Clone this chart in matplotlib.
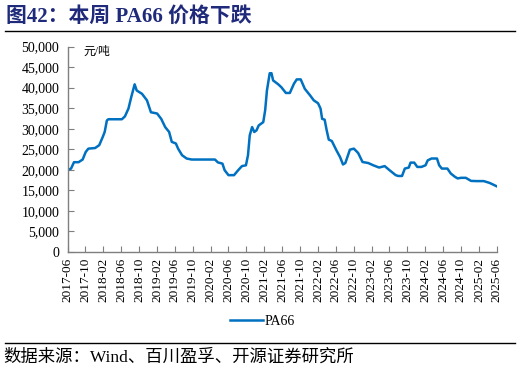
import matplotlib
matplotlib.use('Agg')
import matplotlib.pyplot as plt
import matplotlib.dates as mdates
import pandas as pd
from matplotlib.lines import Line2D

plt.rcParams['font.family'] = ['Liberation Serif', 'Noto Sans CJK SC']
plt.rcParams['axes.unicode_minus'] = False

# PA66 价格（元/吨）
dates = ['2017-06-01', '2017-06-25', '2017-07-15', '2017-08-15', '2017-09-12', '2017-10-03',
         '2017-10-21', '2017-12-06', '2018-01-03', '2018-01-27', '2018-02-09', '2018-02-24',
         '2018-03-06', '2018-06-06', '2018-06-27', '2018-07-21', '2018-08-09', '2018-08-18',
         '2018-09-01', '2018-09-15', '2018-10-21', '2018-11-24', '2018-12-21', '2019-02-01',
         '2019-03-01', '2019-03-28', '2019-04-24', '2019-05-12', '2019-06-09', '2019-06-24',
         '2019-07-21', '2019-08-21', '2019-09-24', '2020-03-01', '2020-03-21', '2020-04-21',
         '2020-05-06', '2020-06-01', '2020-07-09', '2020-08-06', '2020-09-01', '2020-09-28',
         '2020-10-12', '2020-10-24', '2020-11-09', '2020-11-24', '2020-12-09', '2020-12-24',
         '2021-01-24', '2021-02-06', '2021-02-18', '2021-03-09', '2021-03-21', '2021-04-01',
         '2021-05-06', '2021-05-27', '2021-06-27', '2021-07-24', '2021-08-21', '2021-09-09',
         '2021-10-06', '2021-11-03', '2021-12-09', '2022-01-03', '2022-02-01', '2022-02-18',
         '2022-03-01', '2022-03-18', '2022-04-01', '2022-04-15', '2022-05-06', '2022-06-06',
         '2022-07-01', '2022-07-21', '2022-08-06', '2022-09-06', '2022-10-03', '2022-11-01',
         '2022-12-01', '2023-01-09', '2023-02-12', '2023-03-24', '2023-05-01', '2023-06-03',
         '2023-07-15', '2023-08-01', '2023-08-27', '2023-09-15', '2023-10-12', '2023-10-24',
         '2023-11-18', '2023-12-09', '2024-01-06', '2024-02-03', '2024-02-18', '2024-03-15',
         '2024-04-21', '2024-05-06', '2024-05-24', '2024-07-01', '2024-07-24', '2024-08-21',
         '2024-09-09', '2024-10-01', '2024-11-03', '2024-12-09', '2025-01-15', '2025-03-06',
         '2025-04-15', '2025-06-01']
pa66 = [19900, 20300, 21850, 21850, 22500, 24350,
        25150, 25300, 26000, 28000, 29200, 32000,
        32300, 32300, 33000, 34900, 37700, 38900,
        40800, 39300, 38500, 36900, 34000, 33700,
        32400, 30400, 29200, 26800, 26400, 25150,
        23550, 22750, 22500, 22500, 21800, 21500,
        19900, 18700, 18700, 19900, 20900, 21100,
        23550, 28400, 30400, 29200, 29600, 30800,
        31600, 34500, 39300, 43500, 43500, 41750,
        40800, 40100, 38700, 38700, 40950, 42000,
        42000, 39700, 38100, 36900, 36200, 34900,
        32400, 32200, 29600, 27350, 27000, 24750,
        23100, 21300, 21650, 24900, 25150, 24100,
        21900, 21650, 21100, 20550, 20900, 19900,
        18700, 18500, 18500, 20300, 20550, 21750,
        21750, 20700, 20700, 21100, 22300, 22750,
        22750, 21100, 20300, 20300, 19100, 18300,
        17900, 18050, 18050, 17300, 17250, 17250,
        16800, 16000]

x = pd.to_datetime(dates)
ticks = pd.date_range('2017-06-01', '2025-06-01', freq='4MS')

fig = plt.figure(figsize=(5.21, 3.73), dpi=100)
ax = fig.add_axes([0.1296, 0.3244, 0.8244, 0.5509])

ax.plot(x, pa66, color='#0070C0', lw=1.8, label='PA66')

ax.set_ylim(0, 50000)
ax.set_yticks(range(0, 50001, 5000))
ax.yaxis.set_major_formatter(matplotlib.ticker.FuncFormatter(lambda v, p: f'{int(v):,}'))
ax.set_xlim(ticks[0], ticks[-1] + pd.Timedelta(days=3))
ax.set_xticks(ticks)
ax.xaxis.set_major_formatter(mdates.DateFormatter('%Y-%m'))
plt.setp(ax.get_xticklabels(), rotation=90)

for s in ['top', 'right']:
    ax.spines[s].set_visible(False)
for s in ['left', 'bottom']:
    ax.spines[s].set_color('#7f7f7f')
    ax.spines[s].set_linewidth(1.0)
ax.tick_params(axis='y', direction='in', length=4, color='#7f7f7f', labelsize=10, pad=6)
ax.tick_params(axis='x', direction='in', length=4, color='#7f7f7f', labelsize=9.5, pad=4)

ax.text(0.036, 0.973, '元/吨', transform=ax.transAxes, fontsize=8.5, va='center', ha='left')

fig.legend(loc='center', bbox_to_anchor=(0.503, 0.139), frameon=False, fontsize=10,
           handlelength=2.4, handletextpad=0.1)

# 标题和上下横线
fig.text(0.012, 1 - 17 / 373, '图42：本周 PA66 价格下跌', fontsize=15, fontweight='bold',
         color='#1F2A7A', va='center', ha='left')
fig.add_artist(Line2D([5 / 521, 515 / 521], [1 - 31 / 373] * 2, color='black', lw=1.0))
fig.add_artist(Line2D([5 / 521, 515 / 521], [1 - 343 / 373] * 2, color='black', lw=1.0))
fig.text(0.006, 1 - 358 / 373, '数据来源：Wind、百川盈孚、开源证券研究所', fontsize=12.5,
         va='center', ha='left')

fig.savefig('out.png', dpi=100)
